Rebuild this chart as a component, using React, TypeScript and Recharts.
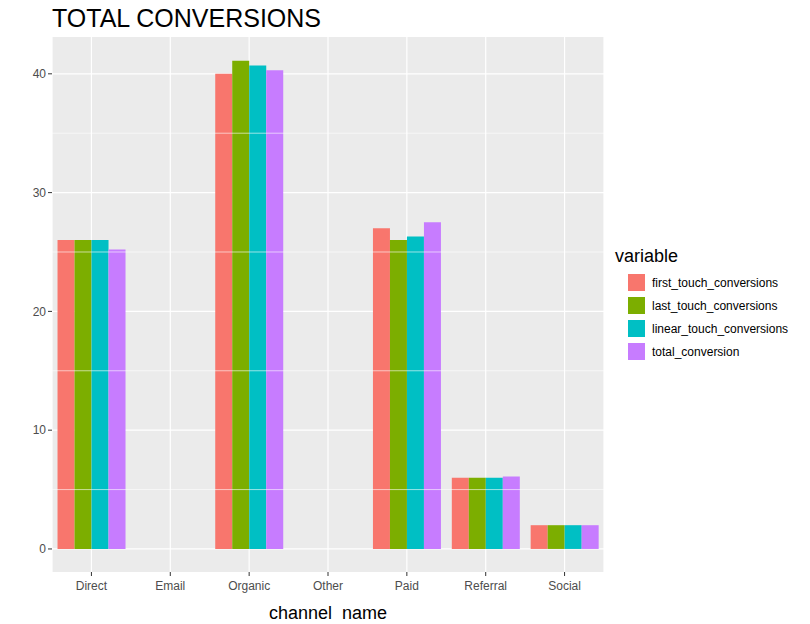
import React from 'react';
import { BarChart, Bar, XAxis, YAxis, CartesianGrid, ReferenceLine } from 'recharts';

const categories = ['Direct', 'Email', 'Organic', 'Other', 'Paid', 'Referral', 'Social'];
const firstTouch = [26, 0, 40, 0, 27, 6, 2];
const lastTouch = [26, 0, 41.1, 0, 26, 6, 2];
const linearTouch = [26, 0, 40.7, 0, 26.3, 6, 2];
const totalConv = [25.2, 0, 40.3, 0, 27.5, 6.1, 2];
const yTicks = [0, 10, 20, 30, 40];
const minorTicks = [5, 15, 25, 35];

const series = [
  { key: 'first_touch_conversions', values: firstTouch, color: '#F8766D' },
  { key: 'last_touch_conversions', values: lastTouch, color: '#7CAE00' },
  { key: 'linear_touch_conversions', values: linearTouch, color: '#00BFC4' },
  { key: 'total_conversion', values: totalConv, color: '#C77CFF' },
];

const data = categories.map((c, i) => {
  const row: any = { name: c };
  series.forEach(s => (row[s.key] = s.values[i]));
  return row;
});

const font = 'Liberation Sans, Arial, sans-serif';

const LegendBox = () => (
  <div style={{ position: 'absolute', left: 615, top: 246, fontFamily: font }}>
    <div style={{ fontSize: 18, color: '#000', marginBottom: 4 }}>variable</div>
    {series.map(s => (
      <div key={s.key} style={{ display: 'flex', alignItems: 'center', height: 23 }}>
        <div style={{ width: 17, height: 17, background: s.color, marginLeft: 13, marginRight: 7 }} />
        <span style={{ fontSize: 12, color: '#000' }}>{s.key}</span>
      </div>
    ))}
  </div>
);

export default function App() {
  return (
    <div style={{ position: 'absolute', left: 0, top: 0, width: 810, height: 624, background: '#fff' }}>
      <div style={{ position: 'absolute', left: 52, top: 4, fontFamily: font, fontSize: 25, color: '#000' }}>TOTAL CONVERSIONS</div>
      <div style={{ position: 'absolute', left: 0, width: 656, top: 603, textAlign: 'center', fontFamily: font, fontSize: 18, color: '#000', whiteSpace: 'pre' }}>channel  name</div>
      <BarChart width={810} height={624} data={data} margin={{ top: 37, right: 206, bottom: 22, left: 12 }}
        barCategoryGap="7%" barGap={0}>
        <CartesianGrid fill="#EBEBEB" stroke="#FFFFFF" strokeWidth={1.2} horizontalValues={yTicks} />
        {minorTicks.map(t => (
          <ReferenceLine key={t} y={t} stroke="#FFFFFF" strokeWidth={0.6} />
        ))}
        <XAxis dataKey="name" axisLine={false} tickLine={{ stroke: '#333' }} tickSize={4} tickMargin={5} height={30}
          tick={{ fill: '#4D4D4D', fontSize: 12, fontFamily: font }} />
        <YAxis domain={[-1.94, 43.1]} ticks={yTicks} allowDataOverflow axisLine={false} width={40}
          tickLine={{ stroke: '#333' }} tickSize={4} tick={{ fill: '#4D4D4D', fontSize: 12, fontFamily: font }} />
        {series.map(s => (
          <Bar key={s.key} dataKey={s.key} fill={s.color} isAnimationActive={false} />
        ))}
      </BarChart>
      <LegendBox />
    </div>
  );
}
